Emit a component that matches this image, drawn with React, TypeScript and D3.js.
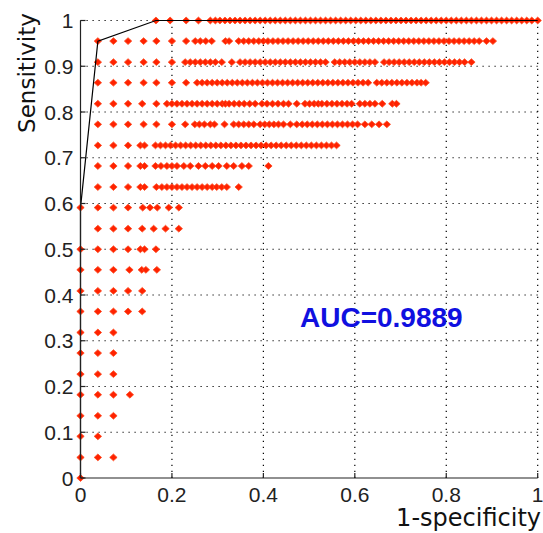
import React, { useEffect, useRef } from "react";
import * as d3 from "d3";

// sensitivity levels (k/22), top to bottom
const sensLevels = [
  1, 0.955, 0.909, 0.864, 0.818, 0.773, 0.727, 0.682, 0.636, 0.591, 0.545, 0.5,
  0.455, 0.409, 0.364, 0.318, 0.273, 0.227, 0.182, 0.136, 0.091, 0.045, 0,
];

// 1-specificity values of the dots on each sensitivity level
const fprByLevel = [
  [0.165, 0.196, 0.231, 0.258, 0.284, 0.295, 0.305, 0.316, 0.327, 0.338, 0.349, 0.36, 0.371, 0.382, 0.393, 0.404, 0.415, 0.426, 0.437, 0.448, 0.459, 0.47, 0.481, 0.492, 0.503, 0.514, 0.525, 0.536, 0.547, 0.558, 0.569, 0.58, 0.591, 0.602, 0.613, 0.624, 0.635, 0.646, 0.657, 0.668, 0.679, 0.69, 0.701, 0.712, 0.723, 0.734, 0.745, 0.756, 0.767, 0.778, 0.789, 0.8, 0.811, 0.822, 0.833, 0.844, 0.855, 0.866, 0.877, 0.888, 0.899, 0.91, 0.921, 0.932, 0.943, 0.954, 0.965, 0.976, 0.987, 1.0],
  [0.038, 0.072, 0.104, 0.138, 0.166, 0.2, 0.231, 0.251, 0.262, 0.274, 0.287, 0.317, 0.325, 0.346, 0.357, 0.368, 0.379, 0.39, 0.4, 0.41, 0.421, 0.432, 0.443, 0.454, 0.465, 0.476, 0.487, 0.498, 0.509, 0.52, 0.531, 0.542, 0.553, 0.564, 0.575, 0.586, 0.597, 0.608, 0.619, 0.63, 0.641, 0.652, 0.663, 0.674, 0.685, 0.696, 0.707, 0.718, 0.729, 0.74, 0.751, 0.762, 0.773, 0.784, 0.795, 0.806, 0.817, 0.828, 0.839, 0.85, 0.861, 0.872, 0.888, 0.902],
  [0.038, 0.072, 0.104, 0.138, 0.166, 0.2, 0.229, 0.24, 0.251, 0.262, 0.273, 0.284, 0.295, 0.309, 0.331, 0.349, 0.36, 0.371, 0.382, 0.393, 0.404, 0.415, 0.426, 0.437, 0.448, 0.459, 0.47, 0.481, 0.492, 0.503, 0.514, 0.525, 0.536, 0.556, 0.567, 0.578, 0.589, 0.6, 0.611, 0.622, 0.633, 0.644, 0.664, 0.675, 0.686, 0.697, 0.708, 0.719, 0.73, 0.741, 0.752, 0.763, 0.774, 0.785, 0.796, 0.807, 0.818, 0.829, 0.84, 0.855],
  [0.038, 0.072, 0.104, 0.138, 0.166, 0.2, 0.231, 0.255, 0.266, 0.277, 0.288, 0.299, 0.31, 0.321, 0.332, 0.343, 0.354, 0.365, 0.376, 0.387, 0.398, 0.409, 0.42, 0.431, 0.442, 0.453, 0.464, 0.475, 0.486, 0.497, 0.508, 0.519, 0.53, 0.541, 0.552, 0.563, 0.574, 0.585, 0.596, 0.607, 0.618, 0.629, 0.648, 0.659, 0.67, 0.681, 0.692, 0.703, 0.714, 0.725, 0.736, 0.745, 0.755],
  [0.038, 0.072, 0.104, 0.135, 0.166, 0.189, 0.2, 0.211, 0.222, 0.233, 0.244, 0.255, 0.266, 0.277, 0.288, 0.299, 0.31, 0.317, 0.325, 0.336, 0.347, 0.358, 0.37, 0.382, 0.397, 0.408, 0.42, 0.432, 0.444, 0.455, 0.473, 0.491, 0.501, 0.511, 0.52, 0.528, 0.539, 0.55, 0.561, 0.572, 0.583, 0.593, 0.611, 0.622, 0.633, 0.644, 0.66, 0.682, 0.691],
  [0.038, 0.072, 0.104, 0.138, 0.166, 0.2, 0.229, 0.25, 0.26, 0.271, 0.284, 0.293, 0.315, 0.335, 0.346, 0.357, 0.368, 0.379, 0.393, 0.403, 0.413, 0.423, 0.433, 0.444, 0.459, 0.473, 0.485, 0.496, 0.507, 0.518, 0.529, 0.54, 0.551, 0.562, 0.573, 0.584, 0.595, 0.606, 0.622, 0.637, 0.653, 0.67],
  [0.038, 0.072, 0.104, 0.131, 0.14, 0.164, 0.175, 0.186, 0.197, 0.208, 0.219, 0.23, 0.241, 0.252, 0.263, 0.274, 0.285, 0.296, 0.307, 0.318, 0.329, 0.34, 0.351, 0.362, 0.373, 0.384, 0.395, 0.406, 0.417, 0.428, 0.439, 0.45, 0.461, 0.472, 0.483, 0.494, 0.505, 0.516, 0.527, 0.538, 0.549, 0.56],
  [0.038, 0.072, 0.104, 0.131, 0.14, 0.164, 0.176, 0.189, 0.2, 0.211, 0.226, 0.24, 0.258, 0.273, 0.288, 0.302, 0.32, 0.335, 0.353, 0.368, 0.411],
  [0.038, 0.072, 0.104, 0.131, 0.14, 0.166, 0.178, 0.189, 0.2, 0.211, 0.222, 0.233, 0.244, 0.255, 0.266, 0.277, 0.288, 0.298, 0.309, 0.32, 0.346],
  [0, 0.038, 0.072, 0.104, 0.136, 0.152, 0.168, 0.193, 0.215],
  [0.038, 0.072, 0.104, 0.135, 0.16, 0.186, 0.215],
  [0, 0.038, 0.072, 0.104, 0.131, 0.14, 0.165],
  [0, 0.038, 0.072, 0.107, 0.134, 0.143, 0.167],
  [0, 0.038, 0.072, 0.104, 0.135],
  [0, 0.038, 0.072, 0.104, 0.135],
  [0, 0.038, 0.072],
  [0, 0.038, 0.072],
  [0, 0.038, 0.072],
  [0, 0.038, 0.072, 0.108],
  [0, 0.038, 0.072],
  [0, 0.038],
  [0, 0.038, 0.072],
  [0],
];

// ROC curve (black line)
const rocFpr = [0, 0, 0.038, 0.165, 1];
const rocTpr = [0, 0.591, 0.955, 1, 1];

const xTicks = [0, 0.2, 0.4, 0.6, 0.8, 1];
const yTicks = [0, 0.1, 0.2, 0.3, 0.4, 0.5, 0.6, 0.7, 0.8, 0.9, 1];
const aucLabel = "AUC=0.9889";

export default function App() {
  const ref = useRef<SVGSVGElement>(null);

  useEffect(() => {
    const svg = d3.select(ref.current);
    svg.selectAll("*").remove();

    const x = d3.scaleLinear().domain([0, 1]).range([80.5, 537.7]);
    const y = d3.scaleLinear().domain([0, 1]).range([478, 20.5]);

    svg.append("rect").attr("width", 543).attr("height", 533).attr("fill", "#fff");

    // dotted grid
    const grid = svg.append("g").attr("stroke", "#000").attr("stroke-width", 1.2)
      .attr("stroke-dasharray", "1.2,4.8");
    xTicks.filter(t => t > 0).forEach(t => {
      grid.append("line").attr("x1", x(t)).attr("x2", x(t)).attr("y1", y(0)).attr("y2", y(1));
    });
    yTicks.filter(t => t > 0).forEach(t => {
      grid.append("line").attr("x1", x(0)).attr("x2", x(1)).attr("y1", y(t)).attr("y2", y(t));
    });

    // dots
    const pts: [number, number][] = [];
    sensLevels.forEach((s, i) => fprByLevel[i].forEach(f => pts.push([f, s])));
    const diamond = "M0,-3.4L3.7,0L0,3.4L-3.7,0Z";
    svg.append("g").selectAll("path").data(pts).join("path")
      .attr("d", diamond)
      .attr("transform", d => `translate(${x(d[0])},${y(d[1])})`)
      .attr("fill", "#ff2200")
      .attr("stroke", "#ff4a20")
      .attr("stroke-width", 0.8)
      .attr("stroke-linejoin", "round");

    // ROC line
    const line = d3.line<number>().x((d, i) => x(rocFpr[i])).y((d, i) => y(rocTpr[i]));
    svg.append("path").datum(rocFpr).attr("d", line).attr("fill", "none")
      .attr("stroke", "#000").attr("stroke-width", 1.2);

    // axes
    const ax = svg.append("g").attr("stroke", "#222").attr("stroke-width", 1.2);
    ax.append("line").attr("x1", x(0)).attr("x2", x(0)).attr("y1", y(0)).attr("y2", y(1));
    ax.append("line").attr("x1", x(0)).attr("x2", x(1)).attr("y1", y(0)).attr("y2", y(0));
    xTicks.forEach(t => {
      ax.append("line").attr("x1", x(t)).attr("x2", x(t)).attr("y1", y(0)).attr("y2", y(0) - 5);
    });
    yTicks.forEach(t => {
      ax.append("line").attr("x1", x(0)).attr("x2", x(0) + 5).attr("y1", y(t)).attr("y2", y(t));
    });

    const tickFont = "'Liberation Sans', Arial, sans-serif";
    svg.append("g").selectAll("text").data(xTicks).join("text")
      .attr("x", d => x(d)).attr("y", 501.5)
      .attr("text-anchor", "middle").attr("font-family", tickFont).attr("font-size", 21)
      .attr("fill", "#222").text(d => String(d));
    svg.append("g").selectAll("text").data(yTicks).join("text")
      .attr("x", 73.5).attr("y", d => y(d) + 7.5)
      .attr("text-anchor", "end").attr("font-family", tickFont).attr("font-size", 21)
      .attr("fill", "#222").text(d => String(d));

    const labelFont = "'DejaVu Sans', sans-serif";
    svg.append("text").attr("transform", "translate(35,73) rotate(-90)")
      .attr("text-anchor", "middle").attr("font-family", labelFont).attr("font-size", 23)
      .attr("fill", "#111").text("Sensitivity");
    svg.append("text").attr("x", 541).attr("y", 526)
      .attr("text-anchor", "end").attr("font-family", labelFont).attr("font-size", 24)
      .attr("fill", "#111").text("1-specificity");

    svg.append("text").attr("x", 300).attr("y", 327)
      .attr("font-family", tickFont).attr("font-weight", "bold").attr("font-size", 28)
      .attr("fill", "#1010e0").text(aucLabel);
  }, []);

  return (
    <svg ref={ref} width={543} height={533}
      style={{ position: "absolute", left: 0, top: 0, display: "block" }} />
  );
}
